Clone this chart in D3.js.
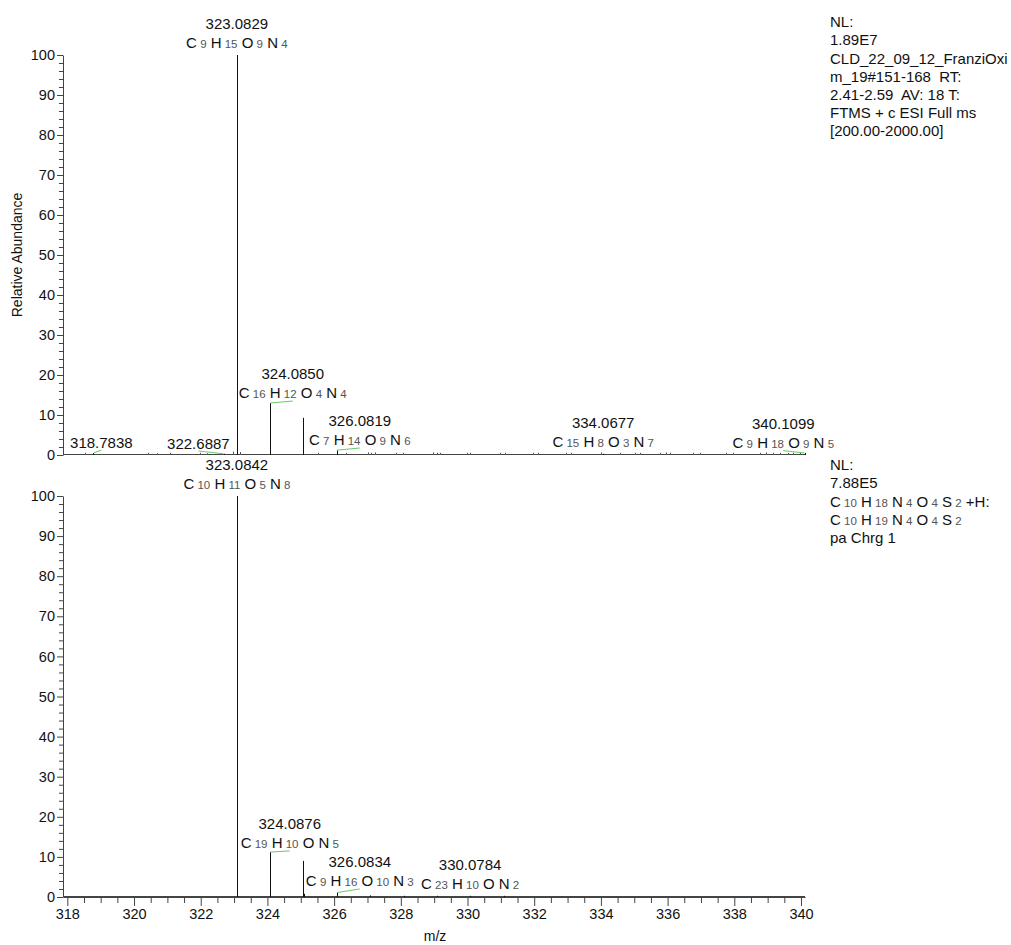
<!DOCTYPE html>
<html>
<head>
<meta charset="utf-8">
<script src="https://cdn.jsdelivr.net/npm/d3@7"></script>
<style>
  body { margin: 0; background: #fff; }
  text { font-family: "Liberation Sans", Arial, sans-serif; fill: #111; white-space: pre; }
</style>
</head>
<body>
<script>
//spectrum data, top panel (measured)
var topPeakMz  = [318.7838, 322.6887, 323.0829, 324.0850, 325.0810, 326.0819, 334.0677, 340.1099];
var topPeakInt = [0.5, 0.3, 100, 13.0, 9.3, 1.2, 0.3, 0.5];

//tiny noise peaks along the top baseline
var topNoiseMz  = [318.53, 320.42, 320.69, 321.08, 321.98, 322.18, 322.98, 323.17, 325.52, 326.37,
                   327.02, 327.12, 327.22, 327.87, 328.07, 328.97, 329.07, 329.17, 329.97, 330.07,
                   330.97, 331.12, 331.96, 332.11, 332.96, 333.11, 334.01, 334.56, 335.01, 335.16,
                   335.76, 335.96, 336.06, 336.76, 336.96, 337.76, 337.96, 338.76, 338.96, 339.16,
                   339.36, 339.61, 339.76, 339.96];
var topNoiseInt = [0.3, 0.3, 0.2, 0.3, 0.3, 0.2, 0.6, 0.5, 0.3, 0.3,
                   0.4, 0.3, 0.4, 0.3, 0.3, 0.4, 0.3, 0.3, 0.3, 0.3,
                   0.3, 0.3, 0.3, 0.3, 0.3, 0.3, 0.4, 0.3, 0.3, 0.3,
                   0.3, 0.4, 0.3, 0.3, 0.3, 0.3, 0.3, 0.3, 0.4, 0.3,
                   0.3, 0.3, 0.3, 0.3];

//bottom panel (simulated isotope pattern)
var botPeakMz  = [323.0842, 324.0876, 325.0810, 325.0900, 326.0834, 327.0840, 328.0830, 329.0800, 330.0784, 331.0800];
var botPeakInt = [100, 11.2, 9.0, 0.8, 1.1, 0.4, 0.3, 0.3, 0.3, 0.3];

//annotations: peak m/z, formula, label m/z, label level (rel. abundance)
var topAnnMz      = [318.7838, 322.6887, 323.0829, 324.0850, 326.0819, 334.0677, 340.1099];
var topAnnFormula = ["", "", "C9 H15 O9 N4", "C16 H12 O4 N4", "C7 H14 O9 N6", "C15 H8 O3 N7", "C9 H18 O9 N5"];
var topAnnAtMz    = [319.02, 321.93, 323.0829, 324.76, 326.77, 334.0677, 339.47];
var topAnnLevel   = [1.2, 1.0, 101.1, 13.5, 1.75, 1.25, 1.1];

var botAnnMz      = [323.0842, 324.0876, 326.0834, 330.0784];
var botAnnFormula = ["C10 H11 O5 N8", "C19 H10 O N5", "C9 H16 O10 N3", "C23 H10 O N2"];
var botAnnAtMz    = [323.0842, 324.67, 326.77, 330.0784];
var botAnnLevel   = [101, 11.5, 2.0, 1.25];

//header texts
var topInfo = ["NL:", "1.89E7", "CLD_22_09_12_FranziOxi", "m_19#151-168  RT:", "2.41-2.59  AV: 18 T:", "FTMS + c ESI Full ms", "[200.00-2000.00]"];
var botInfo = ["NL:", "7.88E5", "C10 H18 N4 O4 S2 +H:", "C10 H19 N4 O4 S2", "pa Chrg 1"];

var yTicks = [0, 10, 20, 30, 40, 50, 60, 70, 80, 90, 100];
var xTickLabels = [318, 320, 322, 324, 326, 328, 330, 332, 334, 336, 338, 340];

var w = 1011, h = 945;
var svg = d3.select("body").append("svg").attr("width", w).attr("height", h);

var x = d3.scaleLinear().domain([317.87, 340.12]).range([63, 805]);
var yTop = d3.scaleLinear().domain([0, 100]).range([455, 55]);
var yBot = d3.scaleLinear().domain([0, 100]).range([897, 496]);

function px(v) { return Math.round(v) + 0.5; }

//write a chemical formula with small grey counts
function formula(sel, str) {
    str.split(" ").forEach(function (tok, i) {
        var m = tok.match(/^([A-Z][a-z]?)(\d*)$/);
        if (!m) { sel.append("tspan").text(" " + tok); return; }
        sel.append("tspan").text((i ? " " : "") + m[1]);
        if (m[2]) sel.append("tspan").attr("font-size", 11.5).style("fill", "#555").text(" " + m[2]);
    });
}

function yAxis(y) {
    var minor = [];
    for (var v = 0; v <= 100; v += 2) if (v % 10) minor.push(v);
    svg.append("g").attr("transform", "translate(63,0)")
        .call(d3.axisLeft(y).tickValues(minor).tickSize(4).tickFormat("").tickSizeOuter(0))
        .call(function (g) { g.select(".domain").remove(); g.selectAll("line").attr("stroke", "#444"); });
    svg.append("g").attr("transform", "translate(63,0)")
        .call(d3.axisLeft(y).tickValues(yTicks).tickSize(6).tickSizeOuter(0).tickPadding(2))
        .call(function (g) {
            g.select(".domain").attr("stroke", "#444");
            g.selectAll("line").attr("stroke", "#444");
            g.selectAll("text").attr("font-size", 14.5).attr("font-family", null).style("fill", "#111");
        });
}

function panel(y, mz, ints, noiseMz, noiseInt, annMz, annF, annAt, annLv, peakInt) {
    //baseline
    svg.append("line").attr("x1", 63).attr("x2", 805)
        .attr("y1", px(y(0)) - 1).attr("y2", px(y(0)) - 1)
        .attr("stroke", "#444");
    //noise
    svg.selectAll(null).data(noiseMz).enter().append("line")
        .attr("x1", function (d) { return px(x(d)); }).attr("x2", function (d) { return px(x(d)); })
        .attr("y1", y(0)).attr("y2", function (d, i) { return y(noiseInt[i]) - 1; })
        .attr("stroke", "#555");
    //peaks
    svg.selectAll(null).data(mz).enter().append("line")
        .attr("x1", function (d) { return px(x(d)); }).attr("x2", function (d) { return px(x(d)); })
        .attr("y1", y(0)).attr("y2", function (d, i) { return y(ints[i]); })
        .attr("stroke", "#111");
    //leaders
    annMz.forEach(function (m, i) {
        if (m === annAt[i]) return;
        svg.append("line")
            .attr("x1", x(m)).attr("y1", y(peakInt(m)))
            .attr("x2", x(annAt[i])).attr("y2", y(annLv[i]))
            .attr("stroke", "#66cc66");
    });
    //labels
    annMz.forEach(function (m, i) {
        var lx = x(annAt[i]), ly = y(annLv[i]);
        svg.append("text").attr("x", lx).attr("y", annF[i] ? ly - 22 : ly - 2)
            .attr("text-anchor", "middle").attr("font-size", 15)
            .text(m.toFixed(4));
        if (annF[i]) {
            var t = svg.append("text").attr("x", lx).attr("y", ly - 3)
                .attr("text-anchor", "middle").attr("font-size", 15);
            formula(t, annF[i]);
        }
    });
}

function lookup(mz, ints) {
    return function (m) { return ints[mz.indexOf(m)]; };
}

yAxis(yTop);
yAxis(yBot);
panel(yTop, topPeakMz, topPeakInt, topNoiseMz, topNoiseInt, topAnnMz, topAnnFormula, topAnnAtMz, topAnnLevel, lookup(topPeakMz, topPeakInt));
panel(yBot, botPeakMz, botPeakInt, [], [], botAnnMz, botAnnFormula, botAnnAtMz, botAnnLevel, lookup(botPeakMz, botPeakInt));

//bottom x axis
var halfTicks = d3.range(318, 340.01, 0.5).filter(function (d) { return xTickLabels.indexOf(d) < 0; });
svg.append("g").attr("transform", "translate(0,898)")
    .call(d3.axisBottom(x).tickValues(halfTicks).tickSize(5).tickFormat("").tickSizeOuter(0))
    .call(function (g) { g.select(".domain").remove(); g.selectAll("line").attr("stroke", "#444"); });
svg.append("g").attr("transform", "translate(0,897)")
    .call(d3.axisBottom(x).tickValues(xTickLabels).tickSize(9).tickSizeOuter(0).tickPadding(3))
    .call(function (g) {
        g.select(".domain").attr("stroke", "#444");
        g.selectAll("line").attr("stroke", "#444");
        g.selectAll("text").attr("font-size", 14.5).attr("font-family", null).style("fill", "#111");
    });

//axis titles
svg.append("text").attr("transform", "translate(22,255) rotate(-90)")
    .attr("text-anchor", "middle").attr("font-size", 14)
    .text("Relative Abundance");
svg.append("text").attr("x", 435).attr("y", 941)
    .attr("text-anchor", "middle").attr("font-size", 14)
    .text("m/z");

//info texts
var topInfoY = [27, 45, 64, 82, 100, 118, 136];
topInfo.forEach(function (s, i) {
    svg.append("text").attr("x", 830).attr("y", topInfoY[i]).attr("font-size", 15).text(s);
});
var botInfoY = [470, 488, 507, 525, 543];
botInfo.forEach(function (s, i) {
    var t = svg.append("text").attr("x", 830).attr("y", botInfoY[i]).attr("font-size", 15);
    if (/^C\d/.test(s)) formula(t, s); else t.text(s);
});
</script>
</body>
</html>
